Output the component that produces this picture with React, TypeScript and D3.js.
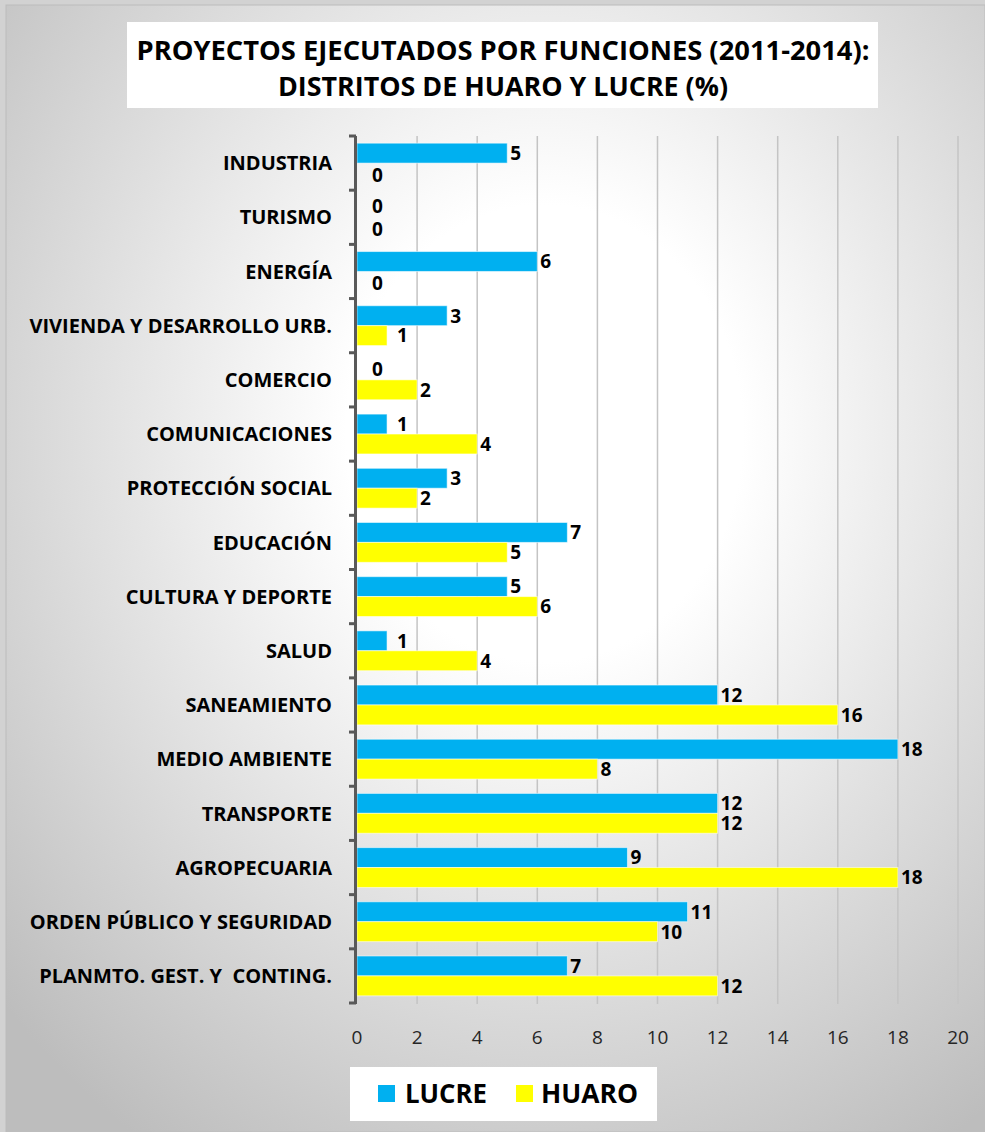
import React from "react";
import * as d3 from "d3";

const categories = [
  "INDUSTRIA",
  "TURISMO",
  "ENERGÍA",
  "VIVIENDA Y DESARROLLO URB.",
  "COMERCIO",
  "COMUNICACIONES",
  "PROTECCIÓN SOCIAL",
  "EDUCACIÓN",
  "CULTURA Y DEPORTE",
  "SALUD",
  "SANEAMIENTO",
  "MEDIO AMBIENTE",
  "TRANSPORTE",
  "AGROPECUARIA",
  "ORDEN PÚBLICO Y SEGURIDAD",
  "PLANMTO. GEST. Y  CONTING.",
];
const lucre = [5, 0, 6, 3, 0, 1, 3, 7, 5, 1, 12, 18, 12, 9, 11, 7];
const huaro = [0, 0, 0, 1, 2, 4, 2, 5, 6, 4, 16, 8, 12, 18, 10, 12];
const seriesNames = ["LUCRE", "HUARO"];
const seriesColors = ["#00B0F0", "#FFFF00"];
const xTicks = [0, 2, 4, 6, 8, 10, 12, 14, 16, 18, 20];
const titleLines = [
  "PROYECTOS EJECUTADOS POR FUNCIONES (2011-2014):",
  "DISTRITOS DE HUARO Y LUCRE (%)",
];

const W = 985;
const H = 1132;
const FONT = "'Open Sans', 'DejaVu Sans', sans-serif";

export default function App() {
  const x = d3.scaleLinear().domain([0, 20]).range([357, 958]);
  const y = d3
    .scaleBand<string>()
    .domain(categories)
    .range([136, 1003])
    .paddingInner(0)
    .paddingOuter(0);
  const sub = d3
    .scaleBand<string>()
    .domain(seriesNames)
    .range([0, y.bandwidth()])
    .paddingInner(0)
    .paddingOuter(0.36);
  const data = [lucre, huaro];
  const boundaries = categories.map((c) => y(c) as number).concat([1003]);

  return (
    <svg
      width={W}
      height={H}
      style={{ position: "absolute", left: 0, top: 0, display: "block" }}
    >
      <defs>
        <radialGradient id="bg" cx="0.55" cy="0.38" r="0.75">
          <stop offset="0" stopColor="#ffffff" />
          <stop offset="0.27" stopColor="#ffffff" />
          <stop offset="1" stopColor="#bdbdbd" />
        </radialGradient>
      </defs>
      <rect x={0} y={0} width={W} height={H} fill="#d2d2d2" />
      <rect x={6} y={5} width={W - 6} height={H - 5} fill="url(#bg)" stroke="#bcbcbc" strokeWidth={1} />

      {/* title */}
      <rect x={127} y={22} width={751} height={86} fill="#ffffff" />
      {titleLines.map((t, i) => (
        <text
          key={t}
          x={503}
          y={i === 0 ? 60 : 96}
          textAnchor="middle"
          fontFamily={FONT}
          fontWeight="bold"
          fontSize={27}
          fill="#000"
          textLength={i === 0 ? 733 : 450}
          lengthAdjust="spacingAndGlyphs"
        >
          {t}
        </text>
      ))}

      {/* gridlines */}
      {xTicks
        .filter((t) => t > 0)
        .map((t) => (
          <line
            key={"g" + t}
            x1={x(t)}
            x2={x(t)}
            y1={136}
            y2={1004}
            stroke="#c4c4c4"
            strokeWidth={1.5}
          />
        ))}

      {/* bars */}
      {data.map((vals, si) =>
        vals.map((v, i) => {
          const c = categories[i];
          const by = (y(c) as number) + (sub(seriesNames[si]) as number);
          return (
            <rect
              key={si + "-" + i}
              x={x(0)}
              y={by}
              width={Math.max(0, x(v) - x(0))}
              height={sub.bandwidth()}
              fill={seriesColors[si]}
              stroke={v > 0 ? "rgba(255,255,255,0.55)" : "none"}
              strokeWidth={1}
            />
          );
        })
      )}

      {/* value labels */}
      {data.map((vals, si) =>
        vals.map((v, i) => {
          const c = categories[i];
          const by = (y(c) as number) + (sub(seriesNames[si]) as number) + sub.bandwidth() / 2;
          const dx = v === 0 ? 15 : v === 1 ? 10 : 3;
          return (
            <text
              key={"l" + si + "-" + i}
              x={x(v) + dx}
              y={by + (v === 0 && si === 0 ? -1 : v === 0 ? 2 : 0)}
              dy="0.36em"
              fontFamily={FONT}
              fontWeight="bold"
              fontSize={19}
              fill="#000"
            >
              {v}
            </text>
          );
        })
      )}

      {/* y axis */}
      <line x1={355.5} x2={355.5} y1={136} y2={1004} stroke="#595959" strokeWidth={3} />
      {boundaries.map((b, i) => (
        <line key={"t" + i} x1={349} x2={356} y1={b} y2={b} stroke="#595959" strokeWidth={3} />
      ))}
      {categories.map((c) => (
        <text
          key={"c" + c}
          x={332}
          y={(y(c) as number) + y.bandwidth() / 2}
          dy="0.36em"
          textAnchor="end"
          fontFamily={FONT}
          fontWeight="bold"
          fontSize={20}
          fill="#000"
          style={{ whiteSpace: "pre" }}
        >
          {c}
        </text>
      ))}

      {/* x tick labels */}
      {xTicks.map((t) => (
        <text
          key={"x" + t}
          x={x(t)}
          y={1044}
          textAnchor="middle"
          fontFamily={FONT}
          fontSize={19}
          fill="#262626"
        >
          {t}
        </text>
      ))}

      {/* legend */}
      <rect x={350} y={1067} width={307} height={54} fill="#ffffff" />
      <rect x={378} y={1085} width={17} height={17} fill={seriesColors[0]} />
      <text x={405} y={1103} fontFamily={FONT} fontWeight="bold" fontSize={26} fill="#000" textLength={82} lengthAdjust="spacingAndGlyphs">
        {seriesNames[0]}
      </text>
      <rect x={516} y={1085} width={17} height={17} fill={seriesColors[1]} />
      <text x={541} y={1103} fontFamily={FONT} fontWeight="bold" fontSize={26} fill="#000" textLength={97} lengthAdjust="spacingAndGlyphs">
        {seriesNames[1]}
      </text>
    </svg>
  );
}
